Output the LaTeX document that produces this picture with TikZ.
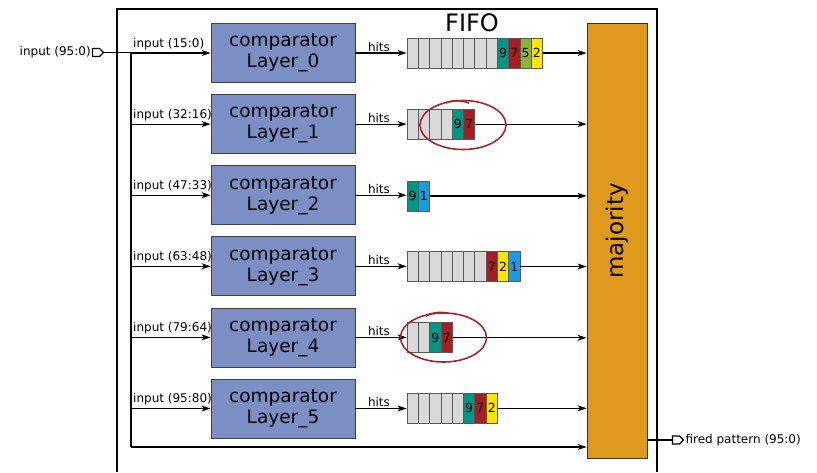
\documentclass[tikz,border=0pt]{standalone}
\usepackage{fontspec}
\setmainfont{DejaVu Sans}
\usetikzlibrary{arrows.meta,shapes.symbols}
\definecolor{compfill}{HTML}{7B8FC4}
\definecolor{majfill}{HTML}{DF9A1E}
\definecolor{cgray}{HTML}{D9D9D9}
\definecolor{cteal}{HTML}{009685}
\definecolor{cred}{HTML}{A51E22}
\definecolor{cgreen}{HTML}{8BB33A}
\definecolor{cyellow}{HTML}{FFE600}
\definecolor{cblue}{HTML}{1E9BE0}
\definecolor{ring}{HTML}{A3262A}
\begin{document}
\begin{tikzpicture}[x=1pt,y=-1pt,
  wire/.style={line width=1.2pt,black},
  arr/.style={wire,-{Stealth[length=9pt,width=6pt,inset=2.5pt]}},
  comp/.style={draw=black!75,line width=0.8pt,fill=compfill,minimum width=144pt,minimum height=59pt,inner sep=0pt,align=center,font=\fontsize{18.5}{21}\selectfont},
  cell/.style={draw=black!65,line width=0.8pt,minimum width=11.3pt,minimum height=30pt,inner sep=0pt,font=\fontsize{12.5}{12.5}\selectfont},
  small/.style={font=\fontsize{12}{12}\selectfont,inner sep=1pt},
  pin/.style={draw=black,line width=1.2pt,fill=white,shape=signal,signal to=east,minimum width=11pt,minimum height=8pt,inner sep=0pt},
  ringc/.style={draw=ring,line width=1.6pt}]
\useasboundingbox (0,0) rectangle (817,472);
% outer box
\draw[line width=1.5pt] (117,472) -- (117,9) -- (657,9) -- (657,472);
% majority
\node[draw=black!80,line width=0.8pt,fill=majfill,minimum width=60pt,minimum height=435pt,inner sep=0pt] (maj) at (617,240.5) {};
\node[rotate=90,font=\fontsize{23}{23}\selectfont] (majt) at (617,231) {majority};
\node[font=\fontsize{24}{24}\selectfont] (fifo) at (472,23) {FIFO};
% input pin
\node[pin] (inpin) at (96,52.5) {};
\node[small,anchor=east] (inlab) at (inpin.west) {input (95:0)};
% bus
\coordinate (bt) at (131,52.5);
\coordinate (bb) at (131,447);
\draw[wire] (inpin.east) -- (bt);
\draw[wire] (bt) -- (bb);
\draw[arr] (bb) -- (maj.west |- bb);
% comparators
\foreach \i/\lab in {0/15:0,1/32:16,2/47:33,3/63:48,4/79:64,5/95:80}{
  \node[comp] (c\i) at (283,{53+71.1*\i}) {comparator\\Layer\_\i};
  \coordinate (b\i) at (131,{53+71.1*\i});
  \draw[arr] (b\i) -- (c\i.west);
  \node[small,anchor=south west] (il\i) at (132,{51+71.1*\i}) {input (\lab)};
}
% FIFO rows
\foreach \c/\l [count=\k] in {cgray/{},cgray/{},cgray/{},cgray/{},cgray/{},cgray/{},cgray/{},cgray/{},cteal/9,cred/7,cgreen/5,cyellow/2}
  \node[cell,fill=\c] (r0-\k) at ({407+11.3*(\k-0.5)},53) {\l};
\foreach \c/\l [count=\k] in {cgray/{},cgray/{},cgray/{},cgray/{},cteal/9,cred/7}
  \node[cell,fill=\c] (r1-\k) at ({407+11.3*(\k-0.5)},124.1) {\l};
\foreach \c/\l [count=\k] in {cteal/9,cblue/1}
  \node[cell,fill=\c] (r2-\k) at ({407+11.3*(\k-0.5)},195.9) {\l};
\foreach \c/\l [count=\k] in {cgray/{},cgray/{},cgray/{},cgray/{},cgray/{},cgray/{},cgray/{},cred/7,cyellow/2,cblue/1}
  \node[cell,fill=\c] (r3-\k) at ({407+11.3*(\k-0.5)},266.5) {\l};
\foreach \c/\l [count=\k] in {cgray/{},cgray/{},cteal/9,cred/7}
  \node[cell,fill=\c] (r4-\k) at ({407+11.3*(\k-0.5)},337.8) {\l};
\foreach \c/\l [count=\k] in {cgray/{},cgray/{},cgray/{},cgray/{},cgray/{},cteal/9,cred/7,cyellow/2}
  \node[cell,fill=\c] (r5-\k) at ({407+11.3*(\k-0.5)},408.3) {\l};
% hits and outputs
\foreach \i/\n in {0/12,1/6,2/2,3/10,4/4,5/8}{
  \draw[arr] (c\i.east) -- node[small,above,xshift=-2pt] (h\i) {hits} (c\i.east -| r\i-1.west);
  \draw[arr] (r\i-\n.east) -- (maj.west |- r\i-\n.east);
}
% rings
\draw[ringc] (463,125) ellipse [x radius=43, y radius=24.5];
\draw[ringc] (446,103) .. controls (452,100) and (461,100) .. (469,103);
\draw[ringc] (443.5,337.5) ellipse [x radius=43, y radius=24.5];
\draw[ringc] (426,316) .. controls (432,312) and (440,312) .. (448,313);
% output
\node[pin] (outpin) at (676,440) {};
\draw[wire] (maj.east |- outpin) -- (outpin.west);
\node[small,anchor=west] (outlab) at (outpin.east) {fired pattern (95:0)};
\end{tikzpicture}
\end{document}
